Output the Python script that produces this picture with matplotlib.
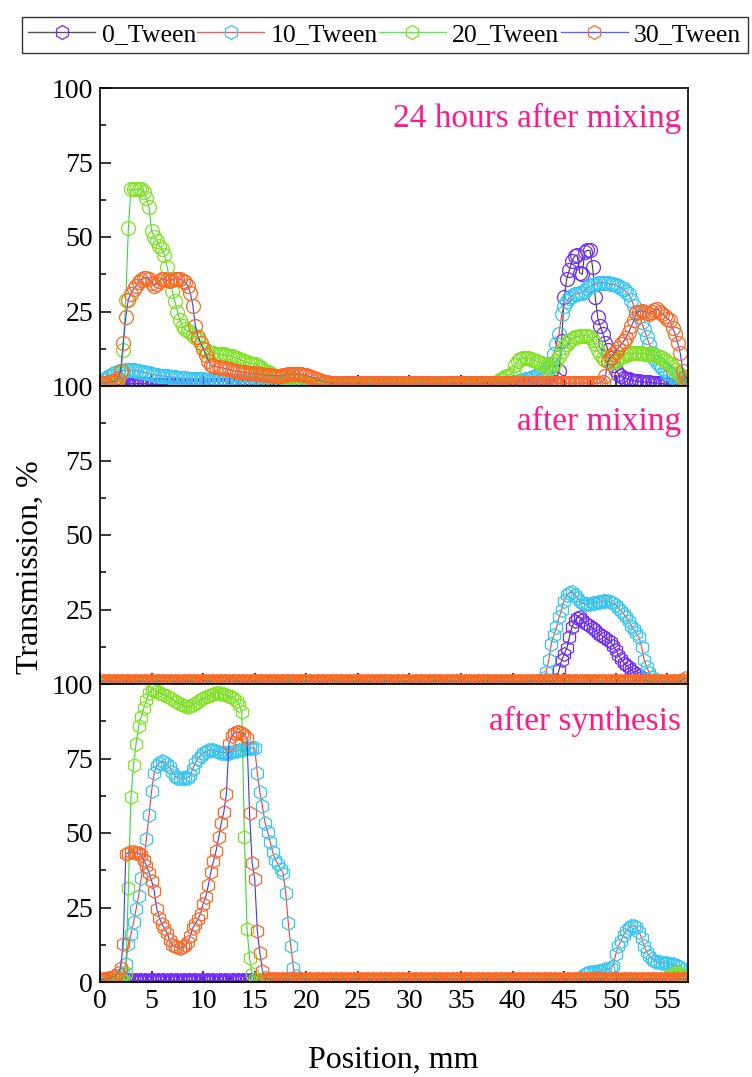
import numpy as np
import matplotlib
matplotlib.use("Agg")
import matplotlib.pyplot as plt
from matplotlib.ticker import MultipleLocator, FuncFormatter

plt.rcParams['font.family'] = ['Liberation Serif', 'DejaVu Serif']

# ---------------- data (Transmission %, sampled every 0.25 mm from 0 mm) ----------------
STEP = 0.25
series_names = ["0_Tween", "10_Tween", "20_Tween", "30_Tween"]
panel_titles = ["24 hours after mixing", "after mixing", "after synthesis"]
x_ticks = [0, 5, 10, 15, 20, 25, 30, 35, 40, 45, 50, 55]
y_ticks = [0, 25, 50, 75, 100]

# ---- panel 1: 24 hours after mixing ----
top_0 = """
.5 .5 .5 .5 .5 .5 .5 .5 .6 .7 .8 .8 .8 .8 .8 .8 .8 .8 .7 .6
.5 .5 .5 .5 .5 .5 .5 .5 .5 .5 .5 .5 .5 .5 .5 .5 .5 .5 .5 .5
.5 .5 .5 .5 .5 .5 .5 .5 .5 .5 .5 .5 .5 .5 .5 .5 .5 .5 .5 .5
.5 .5 .5 .5 .5 .5 .5 .5 .5 .5 .5 .5 .5 .5 .5 .5 .5 .5 .5 .5
.5 .5 .5 .5 .5 .5 .5 .5 .5 .5 .5 .5 .5 .5 .5 .5 .5 .5 .5 .5
.5 .5 .5 .5 .5 .5 .5 .5 .5 .5 .5 .5 .5 .5 .5 .5 .5 .5 .5 .5
.5 .5 .5 .5 .5 .5 .5 .5 .5 .5 .5 .5 .5 .5 .5 .5 .5 .5 .5 .5
.5 .5 .5 .5 .5 .5 .5 .5 .5 .5 .5 .5 .5 .5 .5 .5 .5 .5 .5 .5
.5 .5 .5 .5 .5 .5 .5 .5 .5 .5 .5 .5 .5 .6 .7 1 1.5 2.5 5 15
30 36 39 42 43.5 44 38 37.5 45 45.5 45.5 40 30 23 20 17.5 14.5 12 9.5 7
5.5 4 3.2 2.8 2.5 2.2 2 1.8 1.7 1.6 1.5 1.4 1.3 1.2 1.1 1.05 1 .9 .8 .7
.6 .5 .5 .5 .5 .5 .5 .5 .5
"""
top_10 = """
1.5 2 2.5 3 3.5 4 4.5 4.8 5 5.2 5.3 5.4 5.4 5.3 5.2 5 4.8 4.6 4.4 4.2
4 3.8 3.7 3.5 3.4 3.3 3.2 3.1 3 2.9 2.8 2.7 2.6 2.55 2.5 2.45 2.4 2.35 2.3 2.25
2.2 2.15 2.1 2.05 2 2 1.95 1.9 1.9 1.85 1.85 1.8 1.8 1.75 1.7 1.65 1.6 1.55 1.5 1.45
1.4 1.3 1.2 1.15 1.1 1 1 .95 .9 .9 .85 .85 .8 .8 .75 .75 .7 .7 .7 .7
.6 .6 .6 .6 .6 .6 .6 .6 .6 .6 .6 .6 .6 .6 .6 .6 .6 .6 .6 .6
.6 .6 .6 .6 .6 .6 .6 .6 .6 .6 .6 .6 .6 .6 .6 .6 .6 .6 .6 .6
.6 .6 .6 .6 .6 .6 .6 .6 .6 .6 .6 .6 .6 .6 .6 .6 .6 .6 .6 .6
.6 .6 .6 .6 .6 .6 .6 .6 .6 .6 .6 .6 .6 .6 .6 .6 .7 .7 .8 .8
1 1.2 1.5 1.8 2 2.2 2.4 2.7 3 3.3 3.7 4.1 4.6 5.5 6.5 7.5 10.7 14 17.5 24
27 28.5 29.5 30.3 30.8 31 31.2 31.3 32 32.8 33.4 33.8 34.2 34.5 34.7 34.7 34.6 34.5 34.3 34.2
33.8 33.4 33 32.4 31.6 31 29 27 25 23.5 21.5 19 16.5 14 11 9.5 8.2 7.2 6.2 5.3
4.5 4 3.2 2.5 2 1.6 1.3 1.1 1
"""
top_20 = """
.5 .5 .5 .5 .5 .5 .5 2 4.4 12 29 53 66 66 66 66 66 65 63 60
52 50 48.8 47 46 44 40 36 32 28.5 25 22 20 19 18.5 18 17 16.5 15.8 14.5
12.8 12 11.5 11.2 11 10.9 10.8 10.7 10.6 10.4 10.2 9.9 9.6 9.3 9 8.6 8.3 8 7.7 7.5
7.4 7 6.5 5.8 5 4.6 4.2 3.8 3.5 3.3 3.2 3 2.9 2.8 2.7 2.4 2 1.6 1.2 .9
.5 .5 .5 .5 .5 .5 .5 .5 .5 .5 .5 .5 .5 .5 .5 .5 .5 .5 .5 .5
.5 .5 .5 .5 .5 .5 .5 .5 .5 .5 .5 .5 .5 .5 .5 .5 .5 .5 .5 .5
.5 .5 .5 .5 .5 .5 .5 .5 .5 .5 .5 .5 .5 .5 .5 .5 .5 .5 .5 .5
.5 .5 .5 .5 .5 .5 .5 .5 .5 .5 .5 .6 .8 1.1 1.5 2 2.5 2.9 3.2 3.8
4.5 7 8.4 9 9.3 9.4 9.4 9.2 8.8 8.4 8 7.7 7.4 6.6 5.7 6.5 7.5 8.4 10 11.8
13 14 15 15.8 16.3 16.6 16.8 16.9 16.9 16.8 16.5 15.5 14 12 10.7 9.5 8.6 8.3 8.2 8.3
8.5 9 9.6 10.2 10.7 10.9 11 11 11 11 11 10.9 10.8 10.7 10.6 10.4 10 9.7 9.4 8.8
8 7.4 6.4 5.4 4.5 3.8 3 2.2 1.5
"""
top_30 = """
1 1 1.1 1.2 1.3 1.5 1.7 2.5 5 14.5 23 29 31 32.5 33.5 35 35.7 36.2 36.4 36
34.5 33.7 34.3 35.2 36 35.8 35.5 35.4 35.6 36 36 35.8 35.4 34.8 33.7 31.3 27 20 16.5 14.5
12.5 10.5 8.5 7 6.6 6.5 6.3 6.1 6 5.8 5.6 5.3 5.1 5 4.8 4.7 4.6 4.5 4.4 4.3
4.2 4.1 4 3.9 3.8 3.7 3.6 3.5 3.4 3.4 3.5 3.6 3.8 3.9 4 4 4 4 4 3.8
3.6 3.3 3 2.7 2.4 2 1.7 1.4 1.2 1.1 1 1 1 1 1 1 1 1 1 1
1 1 1 1 1 1 1 1 1 1 1 1 1 1 1 1 1 1 1 1
1 1 1 1 1 1 1 1 1 1 1 1 1 1 1 1 1 1 1 1
1 1 1 1 1 1 1 1 1 1 1 1 1 1 1 1 1 1 1 1
1 1 1 1 1 1 1 1 1 1 1 1 1 1 1 1 1 1 1 1
1 1 1 1 1 1 1 1 1 1 1 1 1 1 1 1.5 3.4 8.4 9.8 10.7
11.5 12.8 14 15 16.2 18 20 22 24.6 25 25.2 25 24.5 24.2 24.8 25.5 25.9 25 24.2 23.5
22.5 22 19.5 17.5 14.5 11 5 3 2
"""

# ---- panel 2: after mixing ----
mid_0 = """
.8 .8 .8 .8 .8 .8 .8 .8 .8 .8 .8 .8 .8 .8 .8 .8 .8 .8 .8 .8
.8 .8 .8 .8 .8 .8 .8 .8 .8 .8 .8 .8 .8 .8 .8 .8 .8 .8 .8 .8
.8 .8 .8 .8 .8 .8 .8 .8 .8 .8 .8 .8 .8 .8 .8 .8 .8 .8 .8 .8
.8 .8 .8 .8 .8 .8 .8 .8 .8 .8 .8 .8 .8 .8 .8 .8 .8 .8 .8 .8
.8 .8 .8 .8 .8 .8 .8 .8 .8 .8 .8 .8 .8 .8 .8 .8 .8 .8 .8 .8
.8 .8 .8 .8 .8 .8 .8 .8 .8 .8 .8 .8 .8 .8 .8 .8 .8 .8 .8 .8
.8 .8 .8 .8 .8 .8 .8 .8 .8 .8 .8 .8 .8 .8 .8 .8 .8 .8 .8 .8
.8 .8 .8 .8 .8 .8 .8 .8 .8 .8 .8 .8 .8 .8 .8 .8 .8 .8 .8 .8
.8 .8 .8 .8 .8 .8 .8 .8 .8 .8 .8 .8 .8 .8 .8 .8 .8 1.5 4.7 8
10 12 15.7 19 21 22.2 22.4 21.5 20.6 20 19.4 18.8 18 17.2 16.6 16 15.4 14.9 14.2 12.8
11.4 9.8 8.4 7.2 6.3 5.6 4.8 4 3.4 2.8 2.2 1.6 1.2 .9 .8 .8 .8 .8 .8 .8
.8 .8 .8 .8 .8 .8 .8 .8 .8
"""
mid_10 = """
.8 .8 .8 .8 .8 .8 .8 .8 .8 .8 .8 .8 .8 .8 .8 .8 .8 .8 .8 .8
.8 .8 .8 .8 .8 .8 .8 .8 .8 .8 .8 .8 .8 .8 .8 .8 .8 .8 .8 .8
.8 .8 .8 .8 .8 .8 .8 .8 .8 .8 .8 .8 .8 .8 .8 .8 .8 .8 .8 .8
.8 .8 .8 .8 .8 .8 .8 .8 .8 .8 .8 .8 .8 .8 .8 .8 .8 .8 .8 .8
.8 .8 .8 .8 .8 .8 .8 .8 .8 .8 .8 .8 .8 .8 .8 .8 .8 .8 .8 .8
.8 .8 .8 .8 .8 .8 .8 .8 .8 .8 .8 .8 .8 .8 .8 .8 .8 .8 .8 .8
.8 .8 .8 .8 .8 .8 .8 .8 .8 .8 .8 .8 .8 .8 .8 .8 .8 .8 .8 .8
.8 .8 .8 .8 .8 .8 .8 .8 .8 .8 .8 .8 .8 .8 .8 .8 .8 .8 .8 .8
.8 .8 .8 .8 .8 .8 .8 .8 .8 .8 .8 1 2 4 8 13.5 16.5 19 22.4 25
28 29.8 30.6 30.8 30 29 28 27.2 26.8 27 27 27.2 27.3 27.4 27.6 27.8 28 27.8 27.5 27.1
26.6 25.6 24.6 23.5 22.4 21 19.6 18.3 17 15.7 12.5 8 5.7 3.7 2.5 1.5 1 .8 .8 .8
.8 .8 .8 .8 .8 .8 .8 .8 .8
"""
mid_20 = """
.8 .8 .8 .8 .8 .8 .8 .8 .8 .8 .8 .8 .8 .8 .8 .8 .8 .8 .8 .8
.8 .8 .8 .8 .8 .8 .8 .8 .8 .8 .8 .8 .8 .8 .8 .8 .8 .8 .8 .8
.8 .8 .8 .8 .8 .8 .8 .8 .8 .8 .8 .8 .8 .8 .8 .8 .8 .8 .8 .8
.8 .8 .8 .8 .8 .8 .8 .8 .8 .8 .8 .8 .8 .8 .8 .8 .8 .8 .8 .8
.8 .8 .8 .8 .8 .8 .8 .8 .8 .8 .8 .8 .8 .8 .8 .8 .8 .8 .8 .8
.8 .8 .8 .8 .8 .8 .8 .8 .8 .8 .8 .8 .8 .8 .8 .8 .8 .8 .8 .8
.8 .8 .8 .8 .8 .8 .8 .8 .8 .8 .8 .8 .8 .8 .8 .8 .8 .8 .8 .8
.8 .8 .8 .8 .8 .8 .8 .8 .8 .8 .8 .8 .8 .8 .8 .8 .8 .8 .8 .8
.8 .8 .8 .8 .8 .8 .8 .8 .8 .8 .8 .8 .8 .8 .8 .8 .8 .8 .8 .8
.8 .8 .8 .8 .8 .8 .8 .8 .8 .8 .8 .8 .8 .8 .8 .8 .8 .8 .8 .8
.8 .8 .8 .8 .8 .8 .8 .8 .8 .8 .8 .8 .8 .8 .8 .8 .8 .8 .8 .8
.8 .8 .8 .8 .8 .8 .8 .8 .8
"""
mid_30 = """
1 1 1 1 1 1 1 1 1 1 1 1 1 1 1 1 1 1 1 1
1 1 1 1 1 1 1 1 1 1 1 1 1 1 1 1 1 1 1 1
1 1 1 1 1 1 1 1 1 1 1 1 1 1 1 1 1 1 1 1
1 1 1 1 1 1 1 1 1 1 1 1 1 1 1 1 1 1 1 1
1 1 1 1 1 1 1 1 1 1 1 1 1 1 1 1 1 1 1 1
1 1 1 1 1 1 1 1 1 1 1 1 1 1 1 1 1 1 1 1
1 1 1 1 1 1 1 1 1 1 1 1 1 1 1 1 1 1 1 1
1 1 1 1 1 1 1 1 1 1 1 1 1 1 1 1 1 1 1 1
1 1 1 1 1 1 1 1 1 1 1 1 1 1 1 1 1 1 1 1
1 1 1 1 1 1 1 1 1 1 1 1 1 1 1 1 1 1 1 1
1 1 1 1 1 1 1 1 1 1 1 1 1 1 1 1 1 1 1 1
1 1 1 1 1 1 1.5 2 1.5
"""

# ---- panel 3: after synthesis ----
bot_0 = mid_20
bot_10 = """
.8 .8 .8 .8 .8 .8 .9 1 1.5 3 6 12.8 16 20 24.5 29 35 41 48 56
64 70 72.5 73.5 74 73.8 73 72 70.5 69.2 68.6 68.4 68.3 68.4 68.6 69.5 71.5 73.5 75 76
76.8 77.3 77.7 77.8 77.7 77.5 77.2 77 77 77 77 77.2 77.4 77.6 77.8 78 78.2 78.4 78.5 78.6
78.6 70 63.6 59 53.5 50.5 47 43.5 41 39.5 38 36.5 30 19.9 12 4.7 2 1 .8 .8
.8 .8 .8 .8 .8 .8 .8 .8 .8 .8 .8 .8 .8 .8 .8 .8 .8 .8 .8 .8
.8 .8 .8 .8 .8 .8 .8 .8 .8 .8 .8 .8 .8 .8 .8 .8 .8 .8 .8 .8
.8 .8 .8 .8 .8 .8 .8 .8 .8 .8 .8 .8 .8 .8 .8 .8 .8 .8 .8 .8
.8 .8 .8 .8 .8 .8 .8 .8 .8 .8 .8 .8 .8 .8 .8 .8 .8 .8 .8 .8
.8 .8 .8 .8 .8 .8 .8 .8 .8 .8 .8 .8 .8 .8 .8 .8 .8 .8 .8 .8
.8 .8 .8 .8 .8 .8 1 1.8 2.7 2.9 3.2 3.3 3.5 3.6 3.8 4 4.2 4.4 4.6 5.5
9.4 12 13.8 15.8 17.2 18.2 18.9 18.8 18.3 16.8 14.8 12 10 8.8 7.8 7.2 6.8 6.6 6.5 6.4
6.3 6.1 6 5.8 5.5 5 4 3 2
"""
bot_20 = """
.8 .8 .8 .8 .8 .8 .8 .8 .8 .8 3 31.6 62 72.7 80 86 89 92 94.5 97
98 98.2 97.6 97 96.7 96.4 96 95.4 94.8 94.2 93.8 93.2 92.8 92.5 92.3 92.5 93 93.5 94 94.8
95.3 95.6 96 96.4 96.8 97 97 96.8 96.6 96.3 96 95.5 95 94.4 93 90.6 48.5 17.8 8 2.7
1 .8 .8 .8 .8 .8 .8 .8 .8 .8 .8 .8 .8 .8 .8 .8 .8 .8 .8 .8
.8 .8 .8 .8 .8 .8 .8 .8 .8 .8 .8 .8 .8 .8 .8 .8 .8 .8 .8 .8
.8 .8 .8 .8 .8 .8 .8 .8 .8 .8 .8 .8 .8 .8 .8 .8 .8 .8 .8 .8
.8 .8 .8 .8 .8 .8 .8 .8 .8 .8 .8 .8 .8 .8 .8 .8 .8 .8 .8 .8
.8 .8 .8 .8 .8 .8 .8 .8 .8 .8 .8 .8 .8 .8 .8 .8 .8 .8 .8 .8
.8 .8 .8 .8 .8 .8 .8 .8 .8 .8 .8 .8 .8 .8 .8 .8 .8 .8 .8 .8
.8 .8 .8 .8 .8 .8 .8 .8 .8 .8 .8 .8 .8 .8 .8 .8 .8 .8 .8 .8
.8 .8 .8 .8 .8 .8 .8 .8 .8 .8 .8 .8 .8 .8 .8 .8 .8 .8 .8 1
1.5 2.2 2.7 3 3 2.8 2.3 1.8 1.2
"""
bot_30 = """
1 1 1 1.2 1.4 1.6 2 3 4.7 12.8 43 43.4 43.5 43.5 43.4 43.2 42.5 41 39 36.7
34 30.6 24.6 21.5 19.5 18 16.5 14 12.5 12 11.6 11.4 11.6 12.3 13.5 15.5 18.2 19.5 21.2 22.9
26.3 28.5 32.5 37 40.5 44 48.5 53.2 57 63 80 82.5 83.5 83.8 83.8 83.5 83 81.8 56.6 40
34.5 17.2 9.8 3.7 1.3 1 1 1 1 1 1 1 1 1 1 1 1 1 1 1
1 1 1 1 1 1 1 1 1 1 1 1 1 1 1 1 1 1 1 1
1 1 1 1 1 1 1 1 1 1 1 1 1 1 1 1 1 1 1 1
1 1 1 1 1 1 1 1 1 1 1 1 1 1 1 1 1 1 1 1
1 1 1 1 1 1 1 1 1 1 1 1 1 1 1 1 1 1 1 1
1 1 1 1 1 1 1 1 1 1 1 1 1 1 1 1 1 1 1 1
1 1 1 1 1 1 1 1 1 1 1 1 1 1 1 1 1 1 1 1
1 1 1 1 1 1 1 1 1 1 1 1 1 1 1 1 1 1 1 1
1 1 1 1 1 1 1 1 1
"""

panels = [
    [top_0, top_10, top_20, top_30],
    [mid_0, mid_10, mid_20, mid_30],
    [bot_0, bot_10, bot_20, bot_30],
]
panel_markers = ['o', 'h', 'h']

# ---------------- styling ----------------
marker_colors = ['#6f2cff', '#36c6f4', '#7fe31f', '#ff6824']
line_colors = ['#3c3c3c', '#f03c3c', '#33dd33', '#3a3aff']
title_color = '#ff1a8c'


def vals(s):
    return np.array(s.split(), dtype=float)


fig = plt.figure(figsize=(7.52, 10.77), dpi=100)
W, H = 752.0, 1077.0
left, right = 100 / W, 688 / W
tops = [88, 386, 684]
ph = 298
axes = []
for k in range(3):
    b = 1 - (tops[k] + ph) / H
    ax = fig.add_axes([left, b, right - left, ph / H])
    axes.append(ax)

title_y = [0.869, 0.852, 0.846]
handles = []
for k, ax in enumerate(axes):
    for i, s in enumerate(panels[k]):
        y = vals(s)
        x = np.arange(len(y)) * STEP
        ln, = ax.plot(x, y, color=line_colors[i], lw=0.8, marker=panel_markers[k],
                      ms=10, mfc='none', mec=marker_colors[i], mew=0.9,
                      label=series_names[i])
        if k == 2:
            handles.append(ln)
    ax.set_xlim(0, 57)
    ax.set_ylim(0, 100)
    ax.set_xticks(x_ticks)
    ax.xaxis.set_minor_locator(MultipleLocator(2.5))
    ax.set_yticks(y_ticks)
    ax.yaxis.set_minor_locator(MultipleLocator(12.5))
    ax.tick_params(which='major', direction='in', length=8, width=1.1,
                   labelsize=20, pad=5, top=False, right=False)
    ax.tick_params(which='minor', direction='in', length=4, width=1.1,
                   top=False, right=False)
    for sp in ax.spines.values():
        sp.set_linewidth(1.2)
    if k < 2:
        ax.tick_params(labelbottom=False)
        ax.yaxis.set_major_formatter(FuncFormatter(lambda v, p: '' if v == 0 else f'{v:g}'))
    ax.text(0.988, title_y[k], panel_titles[k], transform=ax.transAxes,
            ha='right', va='baseline', fontsize=24, color=title_color)

fig.text(0.040, 0.4735, 'Transmission, %', rotation=90, ha='center', va='center', fontsize=23)
fig.text(0.5226, 0.0158, 'Position, mm', ha='center', va='center', fontsize=23)

leg = fig.legend(handles, series_names, loc='upper left', bbox_to_anchor=(22 / W, 1 - 17 / H),
                 ncol=4, frameon=True, fancybox=False, edgecolor='#333333', framealpha=1,
                 fontsize=18.5, handlelength=2.6, handletextpad=0.25, columnspacing=0.05,
                 borderpad=0.25, borderaxespad=0)
leg.get_frame().set_linewidth(1.0)
for lh, lc in zip(leg.get_lines(), ['#555555', '#f06060', '#55ee55', '#6060ff']):
    lh.set_color(lc)
    lh.set_linewidth(1.0)

fig.savefig('out.png', dpi=100)
